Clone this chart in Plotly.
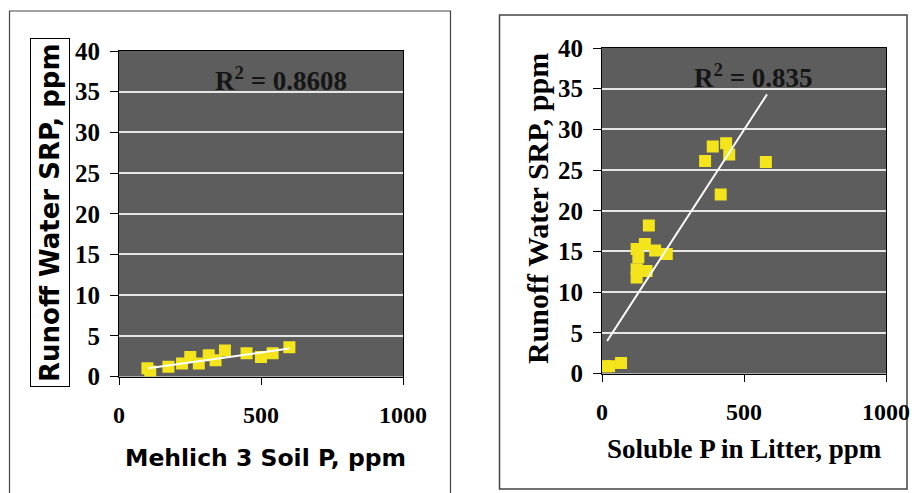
import plotly.graph_objects as go

# ---- data ----
soil_p = [100, 110, 174, 222, 251, 281, 316, 340, 373, 449, 500, 541, 600]
soil_srp = [1.0, 0.6, 1.2, 1.6, 2.4, 1.6, 2.6, 2.0, 3.2, 2.85, 2.4, 2.85, 3.6]
soil_trend_x = [103, 600]
soil_trend_y = [1.0, 3.45]
soil_r2 = "R<sup>2</sup> = 0.8608"

litter_p = [12, 25, 67, 122, 122, 122, 128, 151, 157, 165, 187, 228,
            363, 390, 437, 448, 418, 577]
litter_srp = [0.9, 0.9, 1.3, 15.3, 12.8, 11.8, 14.3, 15.9, 12.6, 18.2, 15.1, 14.7,
              26.1, 27.9, 28.3, 26.9, 22.0, 26.0]
litter_trend_x = [18, 581]
litter_trend_y = [4.0, 34.3]
litter_r2 = "R<sup>2</sup> = 0.835"

x_ticks = [0, 500, 1000]
y_ticks = [0, 5, 10, 15, 20, 25, 30, 35, 40]

y_title = "Runoff Water SRP, ppm"
x_title_left = "Mehlich 3 Soil P, ppm"
x_title_right = "Soluble P in Litter, ppm"

W, H = 914, 493
SERIF = "Liberation Serif, Times New Roman, serif"
SANS = "DejaVu Sans, Verdana, sans-serif"
BG = "#5d5d5d"
YEL = "#f3e41c"

fig = go.Figure()

fig.add_trace(go.Scatter(x=soil_p, y=soil_srp, mode="markers",
                         marker=dict(symbol="square", size=12, color=YEL, line=dict(width=0)),
                         xaxis="x", yaxis="y", showlegend=False))
fig.add_trace(go.Scatter(x=soil_trend_x, y=soil_trend_y, mode="lines",
                         line=dict(color="white", width=2),
                         xaxis="x", yaxis="y", showlegend=False))
fig.add_trace(go.Scatter(x=litter_p, y=litter_srp, mode="markers",
                         marker=dict(symbol="square", size=12, color=YEL, line=dict(width=0)),
                         xaxis="x2", yaxis="y2", showlegend=False))
fig.add_trace(go.Scatter(x=litter_trend_x, y=litter_trend_y, mode="lines",
                         line=dict(color="white", width=2),
                         xaxis="x2", yaxis="y2", showlegend=False))

def xax(domain, anchor):
    return dict(domain=domain, anchor=anchor, range=[0, 1000], tickvals=x_ticks,
                automargin=False,
                showgrid=False, zeroline=False, showline=True, linecolor="black",
                linewidth=1, mirror=True, ticks="outside", ticklen=7, tickcolor="black",
                ticklabelstandoff=10,
                tickfont=dict(family=SERIF, size=24, color="black", weight="bold"))

def yax(domain, anchor):
    return dict(domain=domain, anchor=anchor, range=[0, 40], tickvals=y_ticks,
                automargin=False,
                showgrid=True, gridcolor="#e6e6e6", gridwidth=1.5, zeroline=False,
                showline=True, linecolor="black", linewidth=1, mirror=True,
                ticks="outside", ticklen=8, tickcolor="black", ticklabelstandoff=5,
                tickfont=dict(family=SERIF, size=25, color="black", weight="bold"))

xl = [119 / W, 403 / W]
yl = [1 - 376.5 / H, 1 - 51 / H]
xr = [602 / W, 886 / W]
yr = [1 - 373.5 / H, 1 - 48 / H]

def ann(text, x, y, font, **kw):
    return dict(text=text, x=x / W, y=1 - y / H, xref="paper", yref="paper",
                xanchor="center", yanchor="middle", showarrow=False, font=font, **kw)

fig.update_layout(
    template="none",
    width=W, height=H, autosize=False,
    margin=dict(l=0, r=0, t=0, b=0, pad=0),
    paper_bgcolor="white", plot_bgcolor=BG,
    xaxis=xax(xl, "y"), yaxis=yax(yl, "x"),
    xaxis2=xax(xr, "y2"), yaxis2=yax(yr, "x2"),
    shapes=[
        dict(type="rect", xref="paper", yref="paper", x0=9.5 / W, x1=450.5 / W,
             y0=-0.05, y1=1 - 11 / H, line=dict(color="#444", width=1.2),
             fillcolor="rgba(0,0,0,0)", layer="below"),
        dict(type="rect", xref="paper", yref="paper", x0=499.5 / W, x1=907 / W,
             y0=1 - 489 / H, y1=1 - 15 / H, line=dict(color="#444", width=1.5),
             fillcolor="rgba(0,0,0,0)", layer="below"),
    ],
    annotations=[
        ann(soil_r2, 281, 79, dict(family=SERIF, size=27, color="#151515", weight="bold")),
        ann(litter_r2, 753, 76, dict(family=SERIF, size=27, color="#151515", weight="bold")),
        ann(x_title_left, 265, 458, dict(family=SANS, size=23.5, color="black", weight="bold")),
        ann(x_title_right, 744, 449, dict(family=SERIF, size=27, color="black", weight="bold")),
        ann(y_title, 50, 213, dict(family=SANS, size=26, color="black", weight="bold"),
            textangle=-90, bordercolor="black", borderwidth=1, borderpad=4, bgcolor="white"),
        ann(y_title, 537, 209, dict(family=SERIF, size=30, color="black", weight="bold"),
            textangle=-90),
    ],
)

fig.write_html("out.html", config={"displayModeBar": False},
               post_script="document.body.style.margin='0';document.body.style.overflow='hidden';")
